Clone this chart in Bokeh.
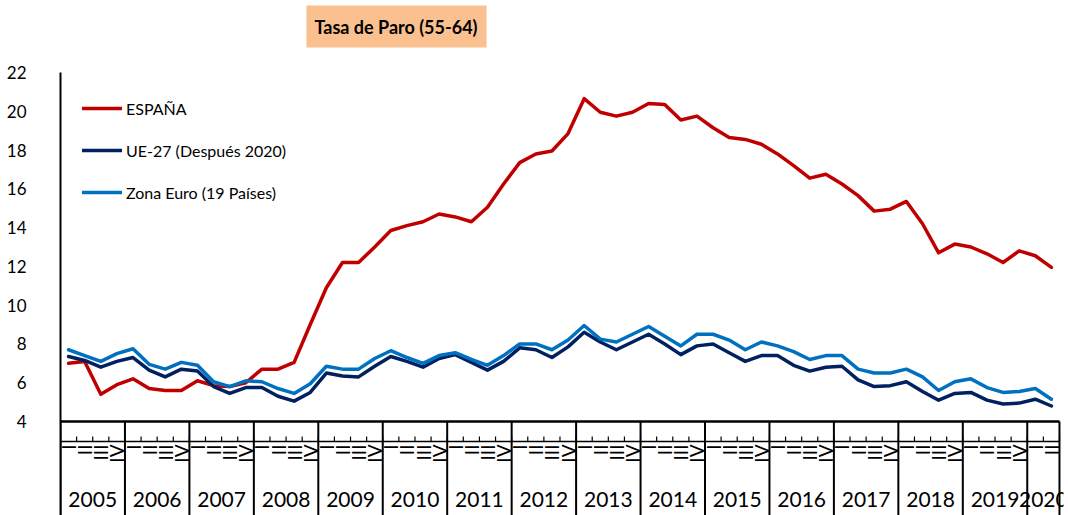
import numpy as np
from bokeh.plotting import figure
from bokeh.models import Range1d, FixedTicker, Legend, LegendItem, Label
from bokeh.embed import file_html
from bokeh.resources import INLINE

# ---------------- data ----------------
years = [str(y) for y in range(2005, 2021)]
quarter_names = ["I", "II", "III", "IV"]
quarters_per_year = [4] * 15 + [2]

espana = [7.0, 7.1, 5.4, 5.9,
          6.2, 5.7, 5.6, 5.6,
          6.1, 5.85, 5.8, 6.0,
          6.7, 6.7, 7.05, 9.0,
          10.9, 12.2, 12.2, 13.0,
          13.85, 14.1, 14.3, 14.7,
          14.55, 14.3, 15.05, 16.25,
          17.35, 17.8, 17.95, 18.85,
          20.65, 19.95, 19.75, 19.95,
          20.4, 20.35, 19.55, 19.75,
          19.15, 18.65, 18.55, 18.3,
          17.8, 17.2, 16.55, 16.75,
          16.25, 15.65, 14.85, 14.95,
          15.35, 14.2, 12.7, 13.15,
          13.0, 12.65, 12.2, 12.8,
          12.55, 11.95]

ue27 = [7.35, 7.15, 6.8, 7.1,
        7.3, 6.65, 6.3, 6.7,
        6.6, 5.8, 5.45, 5.75,
        5.75, 5.3, 5.05, 5.5,
        6.5, 6.35, 6.3, 6.85,
        7.35, 7.1, 6.8, 7.25,
        7.45, 7.05, 6.65, 7.1,
        7.8, 7.7, 7.3, 7.85,
        8.6, 8.1, 7.7, 8.1,
        8.5, 8.0, 7.45, 7.9,
        8.0, 7.55, 7.1, 7.4,
        7.4, 6.9, 6.6, 6.8,
        6.85, 6.15, 5.8, 5.85,
        6.05, 5.55, 5.1, 5.45,
        5.5, 5.1, 4.9, 4.95,
        5.15, 4.8]

zona_euro = [7.7, 7.4, 7.1, 7.5,
             7.75, 6.95, 6.7, 7.05,
             6.9, 6.05, 5.8, 6.1,
             6.05, 5.7, 5.45, 5.95,
             6.85, 6.7, 6.7, 7.25,
             7.65, 7.3, 7.0, 7.4,
             7.55, 7.2, 6.9, 7.4,
             8.0, 8.0, 7.7, 8.2,
             8.95, 8.25, 8.1, 8.5,
             8.9, 8.4, 7.9, 8.5,
             8.5, 8.2, 7.7, 8.1,
             7.9, 7.6, 7.2, 7.4,
             7.4, 6.7, 6.5, 6.5,
             6.7, 6.3, 5.6, 6.05,
             6.2, 5.75, 5.5, 5.55,
             5.7, 5.15]

y_ticks = [4, 6, 8, 10, 12, 14, 16, 18, 20, 22]
series_names = ["ESPAÑA", "UE-27 (Después 2020)", "Zona Euro (19 Países)"]
title_text = "Tasa de Paro (55-64)"

# ---------------- layout ----------------
FONT = "Lato"
W, H = 1068, 515
PLOT_TOP_PX = 72          # pixel row of the value 22
FRAME_LEFT = 60
Y_MIN, Y_MAX = 4, 22
PX_PER_UNIT = 349.0 / (Y_MAX - Y_MIN)
y_bottom = Y_MAX - (H - PLOT_TOP_PX) / PX_PER_UNIT
y_top = Y_MAX + PLOT_TOP_PX / PX_PER_UNIT


def pix_y_to_val(py):
    return Y_MAX - (py - PLOT_TOP_PX) / PX_PER_UNIT


n_q = sum(quarters_per_year)
x_q = np.arange(n_q) + 0.5
q_labels = [quarter_names[k] for n in quarters_per_year for k in range(n)]
bounds = np.concatenate([[0], np.cumsum(quarters_per_year)])
year_centers = (bounds[:-1] + bounds[1:]) / 2.0

PX_PER_Q = 999.0 / n_q
x_end = n_q + 0.25
frame_w = PX_PER_Q * x_end


def pix_x_to_val(px):
    return (px - FRAME_LEFT) / PX_PER_Q


p = figure(width=W, height=H, x_range=Range1d(0, x_end),
           y_range=Range1d(y_bottom, y_top),
           output_backend="svg", toolbar_location=None,
           x_axis_location=None,
           min_border_left=FRAME_LEFT, min_border_right=int(round(W - FRAME_LEFT - frame_w)),
           min_border_top=0, min_border_bottom=0)
p.grid.visible = False
p.outline_line_color = None
p.background_fill_color = "white"

yax = p.yaxis[0]
yax.ticker = FixedTicker(ticks=y_ticks)
yax.bounds = (y_bottom, Y_MAX)
yax.axis_line_color = "black"
yax.axis_line_width = 2
yax.major_tick_line_color = None
yax.minor_tick_line_color = None
yax.major_label_standoff = 28
yax.major_label_text_font = FONT
yax.major_label_text_font_size = "17px"
yax.major_label_text_color = "black"

# category axis drawn in data space
axis_y = Y_MIN
p.segment(x0=[0], y0=[axis_y], x1=[n_q], y1=[axis_y], line_color="black", line_width=2.5)
p.segment(x0=bounds, y0=[axis_y] * len(bounds), x1=bounds, y1=[y_bottom] * len(bounds),
          line_color="black", line_width=2)
tick_line_y = pix_y_to_val(441)
tick_top_y = pix_y_to_val(436)
p.segment(x0=[0], y0=[tick_line_y], x1=[n_q], y1=[tick_line_y], line_color="black", line_width=1.5)
qb = np.arange(n_q + 1)
p.segment(x0=qb, y0=[tick_line_y] * len(qb), x1=qb, y1=[tick_top_y] * len(qb),
          line_color="black", line_width=1.2)
p.text(x=x_q, y=[pix_y_to_val(444)] * n_q, text=q_labels, angle=np.pi / 2,
       text_align="right", text_baseline="middle", text_font_size="19px",
       text_font={"value": FONT}, text_color="black")
p.text(x=year_centers, y=[pix_y_to_val(499)] * len(years), text=years,
       text_align="center", text_baseline="middle", text_font_size="21px",
       text_font={"value": FONT}, text_color="black")

# series
r_es = p.line(x_q, espana, line_color="#C00000", line_width=3.5, line_join="round", line_cap="round")
r_ue = p.line(x_q, ue27, line_color="#002060", line_width=3.5, line_join="round", line_cap="round")
r_ze = p.line(x_q, zona_euro, line_color="#0070C0", line_width=3.5, line_join="round", line_cap="round")

legend = Legend(items=[LegendItem(label=series_names[0], renderers=[r_es]),
                       LegendItem(label=series_names[1], renderers=[r_ue]),
                       LegendItem(label=series_names[2], renderers=[r_ze])],
                location=(22, H - 98 - 104),
                glyph_width=40, glyph_height=20, label_height=20, spacing=22,
                padding=0, margin=0, label_standoff=4,
                label_text_font=FONT, label_text_font_size="16px", label_text_color="black",
                border_line_color=None, background_fill_alpha=0)
p.add_layout(legend)

title = Label(x=pix_x_to_val(396), y=pix_y_to_val(26), text=title_text,
              text_font=FONT, text_font_style="bold", text_font_size="18px",
              text_color="black", text_align="center", text_baseline="middle",
              background_fill_color="#FAC090",
              padding=dict(top=10, right=9, bottom=10, left=8))
p.add_layout(title)

open("out.html", "w").write(file_html(p, INLINE))
